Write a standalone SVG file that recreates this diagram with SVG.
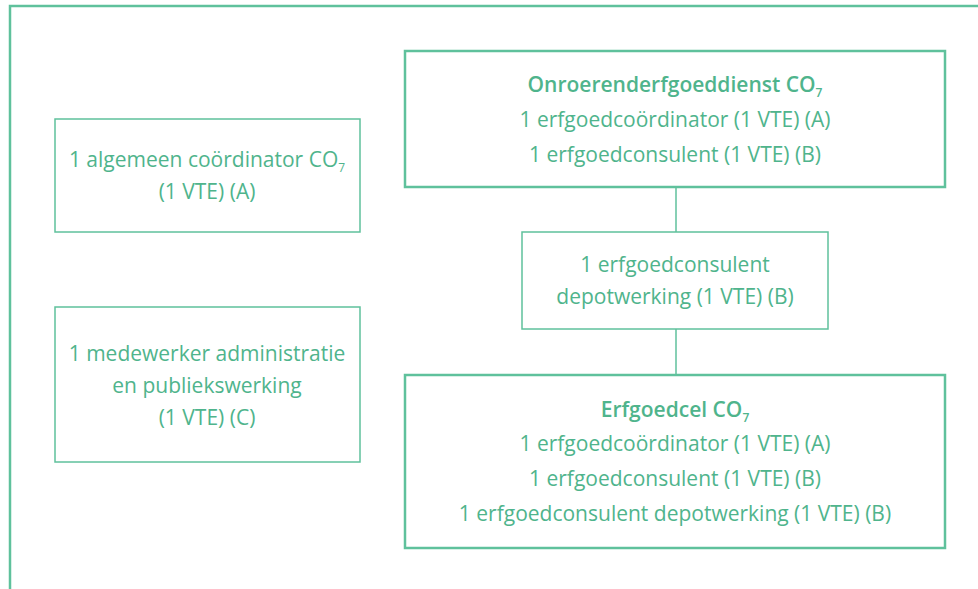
<svg xmlns="http://www.w3.org/2000/svg" width="978" height="589" viewBox="0 0 978 589">
<style>
.frame{fill:none;stroke:#5fc19c;stroke-width:2.5}
.thin{fill:#fff;stroke:#5fc19c;stroke-width:1.5}
.thick{fill:#fff;stroke:#5fc19c;stroke-width:2.5}
.conn{stroke:#5fc19c;stroke-width:1.5;fill:none}
text{font-family:"Open Sans","Noto Sans",sans-serif;font-size:21px;fill:#4fb48c;text-anchor:middle}
.b{font-weight:600}
.sub{font-size:12px}
</style>
<rect width="978" height="589" fill="#fff"/>
<rect class="frame" x="10" y="6" width="990" height="600"/>
<g id="connectors">
<line class="conn" x1="676" y1="187" x2="676" y2="232"/>
<line class="conn" x1="676" y1="329" x2="676" y2="375"/>
</g>
<g id="algemeen">
<rect class="thin" x="55" y="119" width="305" height="113"/>
<text x="207" y="167">1 algemeen coördinator CO<tspan class="sub" dy="5">7</tspan></text>
<text x="207" y="199">(1 VTE) (A)</text>
</g>
<g id="medewerker">
<rect class="thin" x="55" y="307" width="305" height="155"/>
<text x="207" y="361">1 medewerker administratie</text>
<text x="207" y="393">en publiekswerking</text>
<text x="207" y="425">(1 VTE) (C)</text>
</g>
<g id="onroerend">
<rect class="thick" x="405" y="51" width="540" height="136"/>
<text class="b" x="675" y="92">Onroerenderfgoeddienst CO<tspan class="sub" dy="5">7</tspan></text>
<text x="675" y="127">1 erfgoedcoördinator (1 VTE) (A)</text>
<text x="675" y="162">1 erfgoedconsulent (1 VTE) (B)</text>
</g>
<g id="depot">
<rect class="thin" x="522" y="232" width="306" height="97"/>
<text x="675" y="272">1 erfgoedconsulent</text>
<text x="675" y="304">depotwerking (1 VTE) (B)</text>
</g>
<g id="erfgoedcel">
<rect class="thick" x="405" y="375" width="540" height="173"/>
<text class="b" x="675" y="417">Erfgoedcel CO<tspan class="sub" dy="5">7</tspan></text>
<text x="675" y="451">1 erfgoedcoördinator (1 VTE) (A)</text>
<text x="675" y="486">1 erfgoedconsulent (1 VTE) (B)</text>
<text x="675" y="521">1 erfgoedconsulent depotwerking (1 VTE) (B)</text>
</g>
</svg>
